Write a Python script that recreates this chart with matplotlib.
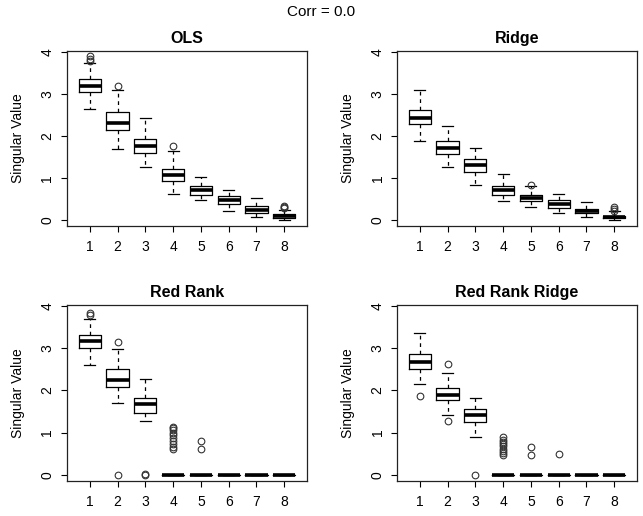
import matplotlib
matplotlib.use("Agg")
import matplotlib.pyplot as plt

plt.rcParams['font.family'] = ['Liberation Sans', 'DejaVu Sans']

positions = [1, 2, 3, 4, 5, 6, 7, 8]
xticklabels = ['1', '2', '3', '4', '5', '6', '7', '8']
titles = ['OLS', 'Ridge', 'Red Rank', 'Red Rank Ridge']

# OLS
ols_whislo = [2.65, 1.70, 1.27, 0.62, 0.47, 0.20, 0.07, 0.00]
ols_q1 = [3.05, 2.15, 1.60, 0.92, 0.60, 0.37, 0.16, 0.05]
ols_med = [3.20, 2.31, 1.77, 1.08, 0.70, 0.47, 0.23, 0.09]
ols_q3 = [3.35, 2.57, 1.93, 1.22, 0.80, 0.57, 0.32, 0.13]
ols_whishi = [3.75, 3.10, 2.42, 1.65, 1.02, 0.72, 0.53, 0.24]
ols_fliers = [[3.80, 3.85, 3.90], [3.20], [], [1.77], [], [], [], [0.27, 0.30, 0.33]]

# Ridge
ridge_whislo = [1.87, 1.27, 0.83, 0.45, 0.30, 0.17, 0.07, 0.00]
ridge_q1 = [2.28, 1.58, 1.15, 0.60, 0.45, 0.28, 0.15, 0.03]
ridge_med = [2.43, 1.72, 1.30, 0.72, 0.52, 0.37, 0.20, 0.06]
ridge_q3 = [2.62, 1.87, 1.44, 0.80, 0.60, 0.47, 0.25, 0.09]
ridge_whishi = [3.10, 2.25, 1.72, 1.10, 0.80, 0.62, 0.42, 0.20]
ridge_fliers = [[], [], [], [], [0.83], [], [], [0.22, 0.26, 0.30]]

# Red Rank
rr_whislo = [2.60, 1.70, 1.28, 0.0, 0.0, 0.0, 0.0, 0.0]
rr_q1 = [3.00, 2.08, 1.47, 0.0, 0.0, 0.0, 0.0, 0.0]
rr_med = [3.18, 2.24, 1.68, 0.0, 0.0, 0.0, 0.0, 0.0]
rr_q3 = [3.32, 2.50, 1.83, 0.0, 0.0, 0.0, 0.0, 0.0]
rr_whishi = [3.70, 2.98, 2.28, 0.0, 0.0, 0.0, 0.0, 0.0]
rr_fliers = [[3.80, 3.84], [3.15, 0.0], [0.0, 0.01],
             [0.60, 0.65, 0.72, 0.80, 0.87, 0.95, 1.00, 1.05, 1.10, 1.13],
             [0.60, 0.80], [], [], []]

# Red Rank Ridge
rrr_whislo = [2.15, 1.42, 0.90, 0.0, 0.0, 0.0, 0.0, 0.0]
rrr_q1 = [2.52, 1.77, 1.25, 0.0, 0.0, 0.0, 0.0, 0.0]
rrr_med = [2.68, 1.90, 1.42, 0.0, 0.0, 0.0, 0.0, 0.0]
rrr_q3 = [2.87, 2.07, 1.57, 0.0, 0.0, 0.0, 0.0, 0.0]
rrr_whishi = [3.37, 2.42, 1.83, 0.0, 0.0, 0.0, 0.0, 0.0]
rrr_fliers = [[1.87], [2.62, 1.27], [0.0],
              [0.47, 0.52, 0.57, 0.62, 0.68, 0.73, 0.78, 0.83, 0.90],
              [0.47, 0.65], [0.50], [], []]

panels = [
    (ols_whislo, ols_q1, ols_med, ols_q3, ols_whishi, ols_fliers),
    (ridge_whislo, ridge_q1, ridge_med, ridge_q3, ridge_whishi, ridge_fliers),
    (rr_whislo, rr_q1, rr_med, rr_q3, rr_whishi, rr_fliers),
    (rrr_whislo, rrr_q1, rrr_med, rrr_q3, rrr_whishi, rrr_fliers),
]

W, H = 643, 516
fig = plt.figure(figsize=(W / 100, H / 100), dpi=100)

# axes boxes in pixels: left, top, right, bottom
boxes = [(67, 51, 307, 226), (397, 51, 637, 226),
         (67, 305, 307, 481), (397, 305, 637, 481)]

for (l, t, r, b), title, data in zip(boxes, titles, panels):
    ax = fig.add_axes([l / W, 1 - b / H, (r - l) / W, (b - t) / H])
    stats = []
    for i in range(len(positions)):
        stats.append({
            'whislo': data[0][i], 'q1': data[1][i], 'med': data[2][i],
            'q3': data[3][i], 'whishi': data[4][i], 'fliers': data[5][i],
        })
    ax.bxp(stats, positions=positions, widths=0.8, capwidths=0.4,
           boxprops=dict(color='black', lw=0.9),
           medianprops=dict(color='black', lw=2.6, solid_capstyle='butt'),
           whiskerprops=dict(color='black', lw=0.9, linestyle=(0, (3, 3))),
           capprops=dict(color='black', lw=0.9),
           flierprops=dict(marker='o', markerfacecolor='none',
                           markeredgecolor='#333333', markersize=4.8,
                           markeredgewidth=0.8))
    ax.set_xlim(0.18, 8.82)
    ax.set_ylim(-0.15, 4.03)
    ax.set_xticks(positions)
    ax.set_xticklabels(xticklabels)
    ax.set_yticks([0, 1, 2, 3, 4])
    ax.set_yticklabels(['0', '1', '2', '3', '4'], rotation=90, va='center')
    ax.tick_params(direction='out', length=4, width=0.8, labelsize=10,
                   colors='black')
    ax.tick_params(axis='x', pad=6)
    ax.tick_params(axis='y', pad=5)
    for s in ax.spines.values():
        s.set_linewidth(0.9)
        s.set_color('#222222')
    ax.set_ylabel('Singular Value', fontsize=10, labelpad=11)
    ax.set_title(title, fontsize=11.5, fontweight='bold', pad=6)

fig.text(0.5, 1 - 12 / H, 'Corr = 0.0', ha='center', va='center', fontsize=11)

fig.savefig('out.png', dpi=100)
